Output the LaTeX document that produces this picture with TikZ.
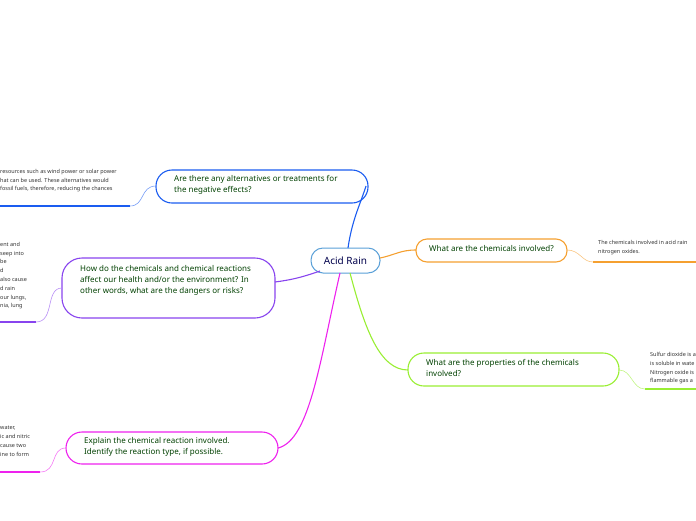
\documentclass[tikz,border=0pt]{standalone}
\usepackage{fontspec}
\setmainfont{Noto Sans}
\begin{document}
\begin{tikzpicture}[x=1pt,y=-1pt,
 ttext/.style={font=\fontsize{8}{11}\selectfont,text=green!25!black,align=left,anchor=north west,inner sep=0pt},
 leaf/.style={font=\fontsize{5.5}{8.8}\selectfont,text=black!80,align=left,anchor=north west,inner sep=0pt},
 link/.style={line width=1.1pt},
 thin/.style={line width=0.6pt}]
\definecolor{cblue}{HTML}{1A5CF0}
\definecolor{cpurp}{HTML}{8844EE}
\definecolor{cmag}{HTML}{EE22EE}
\definecolor{corg}{HTML}{F5A030}
\definecolor{cgrn}{HTML}{99EE33}
\definecolor{croot}{HTML}{5AA0D8}
\useasboundingbox (0,0) rectangle (696,520);
\clip (0,0) rectangle (696,520);
% root
\draw[croot,line width=1pt,fill=white,rounded corners=12pt] (311,248) rectangle (380,273);
\node[font=\fontsize{10}{11}\selectfont\bfseries,text=blue!30!black] (root) at (345.5,260.5) {Acid Rain};
% topic boxes
\draw[cblue,line width=1.1pt,rounded corners=16pt] (156,170) rectangle (368,203);
\node[ttext] (alt) at (174,175) {Are there any alternatives or treatments for\\the negative effects?};
\draw[cpurp,line width=1.1pt,rounded corners=20pt] (62,258) rectangle (275,318);
\node[ttext] (how) at (80,265) {How do the chemicals and chemical reactions\\affect our health and/or the environment? In\\other words, what are the dangers or risks?};
\draw[cmag,line width=1.1pt,rounded corners=16pt] (66,432) rectangle (278,464);
\node[ttext] (exp) at (84,437) {Explain the chemical reaction involved.\\Identify the reaction type, if possible.};
\draw[corg,line width=1.1pt,rounded corners=11pt] (416,239) rectangle (567,262);
\node[ttext] (chem) at (429,245) {What are the chemicals involved?};
\draw[cgrn,line width=1.1pt,rounded corners=16pt] (408,353) rectangle (619,386);
\node[ttext] (prop) at (426,359) {What are the properties of the chemicals\\involved?};
% main links
\draw[link,cblue] (348,248) .. controls (352,220) and (360,205) .. (366,186);
\draw[link,cpurp] (320,271) .. controls (300,278) and (290,280) .. (275,282);
\draw[link,cmag] (340,273) .. controls (320,360) and (310,440) .. (278,448);
\draw[link,corg] (380,258) .. controls (395,255) and (400,250) .. (416,250);
\draw[link,cgrn] (350,273) .. controls (365,330) and (380,370) .. (408,370);
% leaves
\node[leaf] (l1) at (0,169) {resources such as wind power or solar power\\hat can be used. These alternatives would\\fossil fuels, therefore, reducing the chances};
\draw[cblue,line width=1.3pt] (0,206) -- (130,206);
\draw[thin,cblue!60] (130,206) .. controls (145,206) and (140,186) .. (156,186);
\node[leaf] (l2) at (0,242) {ent and\\seep into\\be\\d\\also cause\\d rain\\our lungs,\\nia, lung};
\draw[cpurp,line width=1.3pt] (0,322) -- (36,322);
\draw[thin,cpurp!60] (36,322) .. controls (55,322) and (45,288) .. (62,288);
\node[leaf] (l3) at (0,426) {water,\\ic and nitric\\cause two\\ine to form};
\draw[cmag,line width=1.3pt] (0,472) -- (40,472);
\draw[thin,cmag!60] (40,472) .. controls (58,472) and (50,448) .. (66,448);
\node[leaf] (l4) at (598,240) {The chemicals involved in acid rain\\nitrogen oxides.};
\draw[corg,line width=1.3pt] (593,262) -- (696,262);
\draw[thin,corg!60] (567,250) .. controls (580,250) and (582,262) .. (593,262);
\node[leaf] (l5) at (650,352) {Sulfur dioxide is a\\is soluble in wate\\Nitrogen oxide is\\flammable gas a};
\draw[cgrn,line width=1.3pt] (645,389) -- (696,389);
\draw[thin,cgrn!60] (619,370) .. controls (632,370) and (632,389) .. (645,389);
\end{tikzpicture}
\end{document}
